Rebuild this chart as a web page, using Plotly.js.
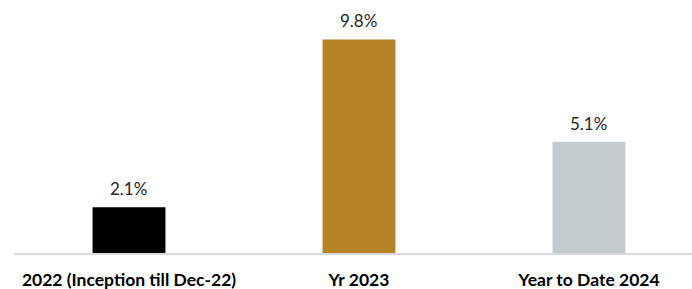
<!DOCTYPE html>
<html><head><meta charset="utf-8">
<script src="https://cdn.plot.ly/plotly-3.0.1.min.js"></script>
<style>html,body{margin:0;padding:0;background:#fff;}#c{width:692px;height:289px;}</style>
</head><body><div id="c"></div>
<script>
const categories = ["2022 (Inception till Dec-22)", "Yr 2023", "Year to Date 2024"];
const values = [2.1, 9.8, 5.1];
const labels = ["2.1%", "9.8%", "5.1%"];
const colors = ["#000000", "#B88327", "#C5CCCE"];

const xs = categories.map((c, i) => i);

Plotly.newPlot("c", [{
  type: "bar",
  x: xs,
  y: values,
  marker: {color: colors},
  width: 0.317,
  cliponaxis: false,
  hoverinfo: "none"
}], {
  width: 692, height: 289,
  margin: {l: 14, r: 0, t: 10, b: 36},
  paper_bgcolor: "#fff", plot_bgcolor: "#fff",
  showlegend: false,
  annotations: xs.map(i => ({
    x: i, y: values[i], xref: "x", yref: "y",
    text: labels[i], showarrow: false,
    yanchor: "bottom", yshift: 6,
    font: {family: "Lato, 'Open Sans', sans-serif", size: 17, color: "#262626"}
  })),
  xaxis: {
    range: [-0.5, 2.448],
    tickmode: "array", tickvals: xs, ticktext: categories.map(c => "<b>" + c + "</b>"),
    showgrid: false, zeroline: false,
    showline: true, linecolor: "#D9D9D9", linewidth: 1.5,
    ticks: "", ticklabelstandoff: 10,
    tickfont: {family: "Lato, 'Open Sans', sans-serif", size: 17.5, color: "#000"}
  },
  yaxis: {
    range: [0, 11.15], visible: false, showgrid: false, zeroline: false
  }
}, {staticPlot: true, displayModeBar: false});
</script></body></html>
